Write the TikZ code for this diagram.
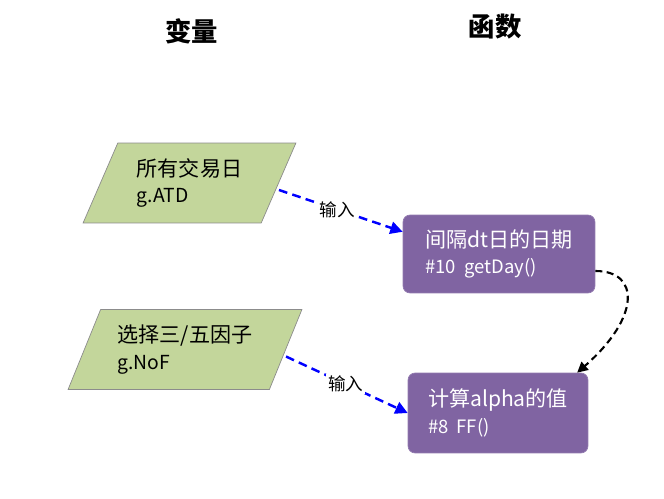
\documentclass[tikz,border=0pt]{standalone}
\usepackage{fontspec}
\setmainfont{Noto Sans CJK SC}
\usetikzlibrary{shapes.geometric,arrows.meta}
\definecolor{varfill}{HTML}{C3D69B}
\definecolor{varline}{HTML}{8C8C8C}
\definecolor{funfill}{HTML}{8064A2}

\begin{document}
\begin{tikzpicture}
[
    x=0.02cm, y=-0.02cm,
    head/.style={font=\fontsize{15}{18}\selectfont\bfseries},
    var/.style={trapezium, trapezium left angle=65, trapezium right angle=115,
        trapezium stretches=true, draw=varline, fill=varfill, minimum height=1.6cm,
        align=left, font=\fontsize{12}{16}\selectfont},
    func/.style={rectangle, rounded corners=4pt, draw=funfill!85!white, fill=funfill,
        text=white, align=left, font=\fontsize{12}{16}\selectfont},
    input/.style={blue, line width=1.4pt, dash pattern=on 5pt off 3pt, -{Triangle[length=7pt, width=7pt]}},
    call/.style={black, line width=1.2pt, dash pattern=on 4pt off 2.5pt, -{Triangle[length=6pt, width=6pt]}},
    lbl/.style={fill=white, inner sep=1pt, text=black, font=\fontsize{10}{11}\selectfont},
]
\useasboundingbox (0,0) rectangle (664,498);

\node [head] (bianliang) at (192,31) {变量};
\node [head] (hanshu) at (495,27) {函数};

\node [var, minimum width=4.26cm] (atd) at (189.5,183)
    {所有交易日\\[-1pt]{\fontsize{11}{12}\selectfont g.ATD}};
\node [var, minimum width=4.68cm] (nof) at (185,349.5)
    {选择三/五因子\\[-1pt]{\fontsize{11}{12}\selectfont g.NoF}};

\node [func, minimum width=3.84cm, minimum height=1.56cm] (getday) at (499,254)
    {间隔dt日的日期\\[-1pt]{\fontsize{10.5}{12}\selectfont \#10~~getDay()}};
\node [func, minimum width=3.6cm, minimum height=1.6cm] (ff) at (498,413)
    {计算alpha的值\\[-1pt]{\fontsize{10.5}{12}\selectfont \#8~~FF()}};

\draw [input] ([yshift=-0.14cm]atd.east) -- node[lbl, pos=0.47] {输入} (getday.167);
\draw [input] ([yshift=-0.14cm]nof.east) -- node[lbl, pos=0.49] {输入} (ff.west);
\draw [call] (getday.-10) .. controls +(45,0) and +(63,-55) .. (ff.27);
\end{tikzpicture}
\end{document}
